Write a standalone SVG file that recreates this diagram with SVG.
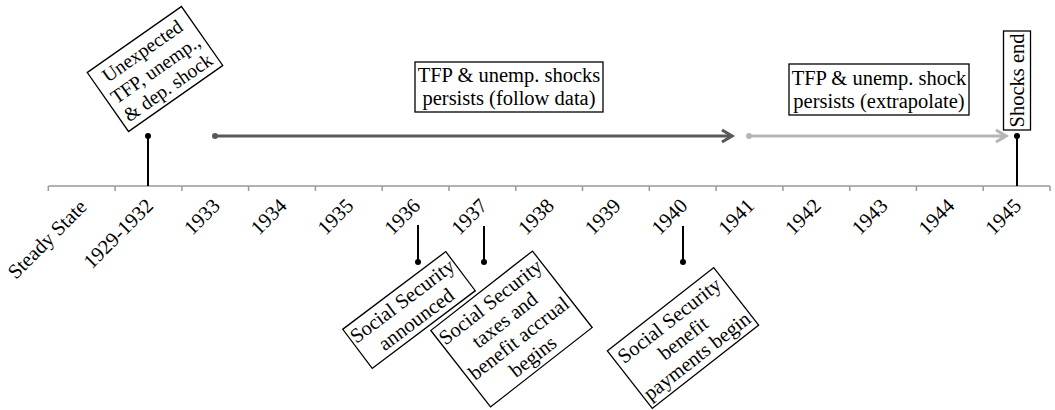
<svg xmlns="http://www.w3.org/2000/svg" width="1055" height="410" viewBox="0 0 1055 410">
<defs>
<style>
text{font-family:"Liberation Serif","Times New Roman",serif;font-size:20.5px;fill:#000}
.lbl{text-anchor:end}
.c{text-anchor:middle}
.sm{font-size:19.5px}
.box{fill:#fff;stroke:#000;stroke-width:1.3}
.axis{stroke:#999;stroke-width:1.5;fill:none}
.stem{stroke:#000;stroke-width:2;fill:none}
.dark{stroke:#595959;stroke-width:3.2;fill:none}
.light{stroke:#b5b5b5;stroke-width:3.2;fill:none}
</style>
<marker id="ahD" markerUnits="userSpaceOnUse" markerWidth="16" markerHeight="16" refX="12" refY="8" orient="auto">
<path d="M2,2 L12,8 L2,14" fill="none" stroke="#595959" stroke-width="3.2"/>
</marker>
<marker id="ahL" markerUnits="userSpaceOnUse" markerWidth="16" markerHeight="16" refX="12" refY="8" orient="auto">
<path d="M2,2 L12,8 L2,14" fill="none" stroke="#b5b5b5" stroke-width="3.2"/>
</marker>
</defs>
<rect width="1055" height="410" fill="#fff"/>

<g id="axis">
<path class="axis" d="M48.3,186 H1050 M48.3,186 V191 M115.1,186 V191 M181.9,186 V191 M248.6,186 V191 M315.4,186 V191 M382.2,186 V191 M449,186 V191 M515.8,186 V191 M582.5,186 V191 M649.3,186 V191 M716.1,186 V191 M782.9,186 V191 M849.7,186 V191 M916.4,186 V191 M983.2,186 V191 M1050,186 V191"/>
<text class="lbl" transform="translate(88,208) rotate(-45)">Steady State</text>
<text class="lbl" transform="translate(154.5,207) rotate(-45)">1929-1932</text>
<text class="lbl" transform="translate(221.3,207) rotate(-45)">1933</text>
<text class="lbl" transform="translate(288,207) rotate(-45)">1934</text>
<text class="lbl" transform="translate(354.8,207) rotate(-45)">1935</text>
<text class="lbl" transform="translate(421.6,207) rotate(-45)">1936</text>
<text class="lbl" transform="translate(488.4,207) rotate(-45)">1937</text>
<text class="lbl" transform="translate(555.2,207) rotate(-45)">1938</text>
<text class="lbl" transform="translate(621.9,207) rotate(-45)">1939</text>
<text class="lbl" transform="translate(688.7,207) rotate(-45)">1940</text>
<text class="lbl" transform="translate(755.5,207) rotate(-45)">1941</text>
<text class="lbl" transform="translate(822.3,207) rotate(-45)">1942</text>
<text class="lbl" transform="translate(889,207) rotate(-45)">1943</text>
<text class="lbl" transform="translate(955.8,207) rotate(-45)">1944</text>
<text class="lbl" transform="translate(1022.6,207) rotate(-45)">1945</text>
</g>

<g id="connectors">
<path class="stem" d="M148,136 V186"/>
<circle cx="148" cy="136" r="3"/>
<path class="stem" d="M1017,136 V186"/>
<circle cx="1017" cy="136" r="3"/>
<path class="stem" d="M418,225 V262"/>
<circle cx="418" cy="262" r="3"/>
<path class="stem" d="M484,226 V262"/>
<circle cx="484" cy="262" r="3"/>
<path class="stem" d="M683,226 V262"/>
<circle cx="683" cy="262" r="3"/>
<path class="dark" d="M215,136 H732" marker-end="url(#ahD)"/>
<circle cx="215" cy="136" r="3" fill="#595959"/>
<path class="light" d="M749,136 H1006" marker-end="url(#ahL)"/>
<circle cx="749" cy="136" r="3" fill="#b5b5b5"/>
</g>

<g id="shock-start" transform="translate(155,69) rotate(-35)">
<rect class="box" x="-57.5" y="-36" width="115" height="72"/>
<text class="c sm" x="0" y="-15.5">Unexpected</text>
<text class="c sm" x="0" y="7">TFP, unemp.,</text>
<text class="c sm" x="0" y="29">&amp; dep. shock</text>
</g>

<g id="follow-data">
<rect class="box" x="415" y="62" width="188" height="50"/>
<text class="c" x="509" y="81.5">TFP &amp; unemp. shocks</text>
<text class="c" x="509" y="105">persists (follow data)</text>
</g>

<g id="extrapolate">
<rect class="box" x="789" y="64" width="180" height="51"/>
<text class="c" x="879" y="84.5">TFP &amp; unemp. shock</text>
<text class="c" x="879" y="108">persists (extrapolate)</text>
</g>

<g id="shocks-end">
<rect class="box" x="1003.5" y="31" width="27" height="99"/>
<text class="c" transform="translate(1024,80.5) rotate(-90)">Shocks end</text>
</g>

<g id="ss-announced" transform="translate(409,310) rotate(-37)">
<rect class="box" x="-64.5" y="-24.5" width="129" height="49"/>
<text class="c" x="0" y="-4.5">Social Security</text>
<text class="c" x="0" y="18.5">announced</text>
</g>

<g id="ss-taxes" transform="translate(511.5,329) rotate(-38)">
<rect class="box" x="-64.5" y="-48.5" width="129" height="97"/>
<text class="c" x="0" y="-27.5">Social Security</text>
<text class="c" x="0" y="-4.5">taxes and</text>
<text class="c" x="0" y="18.5">benefit accrual</text>
<text class="c" x="0" y="41.5">begins</text>
</g>

<g id="ss-payments" transform="translate(683,338) rotate(-38)">
<rect class="box" x="-67.5" y="-36.5" width="135" height="73"/>
<text class="c" x="0" y="-15.5">Social Security</text>
<text class="c" x="0" y="7">benefit</text>
<text class="c" x="0" y="29.5">payments begin</text>
</g>
</svg>
